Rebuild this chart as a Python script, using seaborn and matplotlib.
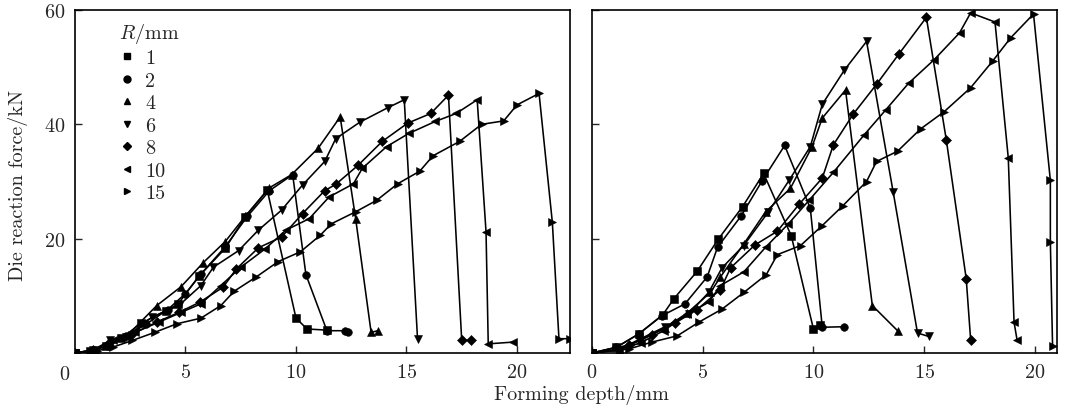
import numpy as np
import pandas as pd
import matplotlib
matplotlib.use("Agg")
import matplotlib.pyplot as plt
from matplotlib.lines import Line2D
import seaborn as sns

# radius levels and their markers
radii = ["1", "2", "4", "6", "8", "10", "15"]
marker_for = {"1": "s", "2": "o", "4": "^", "6": "v", "8": "D", "10": "<", "15": ">"}

# left panel (depth mm, force kN)
l_x_r1 = [0, 0.7, 1.4, 2.1, 3.0, 4.1, 4.65, 5.6, 6.8, 7.7, 8.7, 10.0, 10.5, 11.4]
l_y_r1 = [0, 0.3, 1.2, 2.6, 5.2, 7.4, 8.5, 13.4, 18.3, 23.8, 28.5, 6.1, 4.2, 4.0]
l_x_r2 = [0, 0.8, 1.5, 2.3, 3.2, 4.2, 5.0, 5.7, 6.8, 7.8, 8.8, 9.85, 10.45, 11.4, 12.2, 12.35]
l_y_r2 = [0, 0.4, 1.3, 2.9, 5.0, 7.6, 10.4, 13.8, 18.6, 23.9, 28.4, 31.2, 13.7, 3.9, 3.9, 3.7]
l_x_r4 = [0, 0.9, 1.6, 2.4, 3.7, 4.8, 5.8, 6.8, 7.7, 8.8, 9.8, 11.0, 12.0, 12.7, 13.4, 13.7]
l_y_r4 = [0, 0.6, 1.7, 3.2, 8.3, 11.6, 15.8, 19.5, 23.9, 28.9, 31.2, 35.8, 41.3, 23.5, 3.6, 3.9]
l_x_r6 = [0, 0.8, 1.6, 2.3, 3.5, 4.7, 5.7, 6.26, 7.4, 8.3, 9.35, 10.3, 11.3, 11.8, 12.9, 14.15, 14.9, 15.5]
l_y_r6 = [0, 0.5, 2.2, 2.8, 6.3, 8.3, 11.8, 15.0, 17.9, 21.5, 25.0, 29.4, 33.5, 37.5, 40.4, 42.9, 44.3, 2.5]
l_x_r8 = [0, 0.8, 1.6, 2.6, 3.7, 4.7, 5.65, 6.7, 7.3, 8.3, 9.35, 10.3, 11.3, 11.8, 12.8, 13.9, 15.05, 16.1, 16.9, 17.5, 17.9]
l_y_r8 = [0, 0.5, 1.9, 3.3, 5.4, 7.1, 8.9, 11.5, 14.7, 18.4, 20.3, 24.4, 28.4, 29.5, 32.8, 37.0, 40.2, 41.9, 45.1, 2.2, 2.2]
l_x_r10 = [0, 0.9, 1.7, 2.7, 3.8, 4.8, 5.7, 6.6, 7.5, 8.6, 9.55, 10.6, 11.5, 12.6, 13.0, 14.1, 15.1, 16.3, 17.25, 18.2, 18.6, 18.7, 19.8]
l_y_r10 = [0, 0.4, 2.2, 3.6, 5.4, 7.1, 8.6, 11.8, 15.0, 18.2, 21.5, 23.5, 27.3, 29.6, 32.3, 36.1, 38.4, 40.5, 41.9, 44.3, 21.2, 1.6, 1.9]
l_x_r15 = [0, 1.0, 1.7, 2.6, 3.6, 4.6, 5.7, 6.6, 7.2, 8.2, 9.2, 10.2, 11.1, 11.6, 12.7, 13.65, 14.6, 15.6, 16.2, 17.4, 18.4, 19.4, 20.0, 21.0, 21.6, 21.9, 22.4]
l_y_r15 = [0, 0.4, 1.0, 2.2, 3.6, 5.1, 6.1, 8.3, 10.8, 13.3, 16.0, 17.7, 20.6, 22.6, 24.7, 26.7, 29.6, 31.8, 34.5, 37.0, 40.0, 40.6, 43.4, 45.4, 22.9, 2.5, 2.5]

# right panel
r_x_r1 = [0, 1.1, 2.1, 3.2, 3.7, 4.75, 5.7, 6.8, 7.75, 9.0, 10.0, 10.3]
r_y_r1 = [0, 1.0, 3.3, 6.7, 9.5, 14.3, 19.9, 25.6, 31.4, 20.5, 4.2, 4.9]
r_x_r2 = [0, 1.1, 2.1, 3.15, 4.2, 5.2, 5.67, 6.74, 7.68, 8.7, 9.86, 10.4, 11.4]
r_y_r2 = [0, 1.0, 3.3, 6.5, 8.6, 13.3, 18.5, 24.0, 30.1, 36.3, 25.3, 4.5, 4.6]
r_x_r4 = [0, 1.2, 2.2, 3.3, 4.3, 5.35, 5.8, 6.86, 7.84, 8.96, 9.94, 10.4, 11.45, 12.66, 13.8]
r_y_r4 = [0, 0.6, 2.2, 4.4, 7.0, 10.6, 13.3, 19.1, 24.7, 28.8, 36.1, 41.1, 46.0, 8.3, 3.9]
r_x_r6 = [0, 1.2, 2.1, 3.3, 4.36, 5.27, 5.87, 6.85, 7.97, 8.9, 9.86, 10.4, 11.4, 12.4, 13.6, 14.7, 15.2]
r_y_r6 = [0, 0.6, 2.3, 4.6, 6.8, 10.6, 14.9, 18.8, 24.7, 30.2, 36.1, 43.5, 49.5, 54.5, 28.2, 3.5, 2.9]
r_x_r8 = [0, 1.66, 2.7, 3.74, 4.75, 5.8, 6.26, 7.36, 8.37, 9.35, 10.4, 10.9, 11.8, 12.85, 13.86, 15.1, 16.0, 16.9, 17.1]
r_y_r8 = [0, 1.4, 3.2, 5.2, 7.6, 11.1, 14.9, 18.9, 21.3, 26.0, 30.6, 36.4, 41.8, 47.0, 52.3, 58.7, 37.3, 13.0, 2.3]
r_x_r10 = [0, 1.2, 2.2, 3.24, 4.3, 5.28, 5.8, 6.86, 7.84, 8.87, 9.8, 10.9, 12.3, 13.26, 14.3, 15.45, 16.6, 17.1, 18.2, 18.8, 19.06, 19.2]
r_y_r10 = [0, 0.5, 1.8, 3.9, 6.8, 8.9, 11.8, 14.2, 18.5, 22.6, 26.7, 31.6, 38.2, 42.5, 47.2, 51.3, 56.0, 59.5, 57.9, 34.1, 5.4, 2.2]
r_x_r15 = [0, 1.66, 2.7, 3.85, 4.83, 5.88, 6.86, 7.87, 8.37, 9.42, 10.4, 11.34, 12.4, 12.85, 13.8, 14.84, 15.9, 17.1, 18.1, 18.9, 19.94, 20.7, 20.7, 20.8]
r_y_r15 = [0, 0.7, 1.9, 3.0, 5.4, 7.7, 10.6, 13.7, 17.2, 18.8, 22.3, 25.8, 30.0, 33.5, 35.3, 39.2, 42.2, 46.4, 51.1, 55.1, 59.3, 30.2, 19.4, 1.2]

left_series = [(l_x_r1, l_y_r1), (l_x_r2, l_y_r2), (l_x_r4, l_y_r4), (l_x_r6, l_y_r6),
               (l_x_r8, l_y_r8), (l_x_r10, l_y_r10), (l_x_r15, l_y_r15)]
right_series = [(r_x_r1, r_y_r1), (r_x_r2, r_y_r2), (r_x_r4, r_y_r4), (r_x_r6, r_y_r6),
                (r_x_r8, r_y_r8), (r_x_r10, r_y_r10), (r_x_r15, r_y_r15)]


def to_frame(series):
    parts = []
    for r, (xs, ys) in zip(radii, series):
        parts.append(pd.DataFrame({"depth": xs, "force": ys, "R": r}))
    return pd.concat(parts, ignore_index=True)


df_left = to_frame(left_series)
df_right = to_frame(right_series)

sns.set_style("white")
plt.rcParams["font.family"] = ["cmr10", "DejaVu Serif"]
plt.rcParams["mathtext.fontset"] = "cm"
plt.rcParams["axes.formatter.use_mathtext"] = True
fs = 14.5
plt.rcParams["font.size"] = fs

fig = plt.figure(figsize=(10.66, 4.10), dpi=100)
ax_l = fig.add_axes([75 / 1066, 1 - 354 / 410, 495 / 1066, 343 / 410])
ax_r = fig.add_axes([592 / 1066, 1 - 354 / 410, 465 / 1066, 343 / 410])

for ax, df, xmax in [(ax_l, df_left, 22.4), (ax_r, df_right, 21.0)]:
    sns.lineplot(data=df, x="depth", y="force", style="R", markers=marker_for,
                 dashes=False, color="black", sort=False, estimator=None,
                 legend=False, ax=ax, linewidth=1.15, markersize=5.5,
                 markeredgecolor="black", markeredgewidth=0.4)
    ax.set_xlim(0, xmax)
    ax.set_ylim(0, 60)
    ax.set_xticks([0, 5, 10, 15, 20])
    ax.set_yticks([20, 40, 60])
    ax.tick_params(direction="in", length=5, width=1, pad=7, labelsize=fs,
                   bottom=True, left=True, top=False, right=False)
    for s in ax.spines.values():
        s.set_linewidth(1.2)
        s.set_color("black")
    ax.set_xlabel("")
    ax.set_ylabel("")

ax_r.set_yticklabels([])
# left panel corner "0" sits a bit left of the axis
ax_l.set_xticks([5, 10, 15, 20])
ax_l.text(-0.012, -0.035, "0", transform=ax_l.transAxes, ha="right", va="top", fontsize=fs)

fig.text(18 / 1066, 1 - 185 / 410, "Die reaction force/kN", rotation=90,
         ha="center", va="center", fontsize=fs)
fig.text(581 / 1066, 1 - 395 / 410, "Forming depth/mm", ha="center", va="center", fontsize=fs)

handles = [Line2D([], [], linestyle="none", marker=marker_for[r], color="black",
                  markersize=5 if marker_for[r] != "D" else 4.5) for r in radii]
ax_l.legend(handles, radii, title="$R$/mm", loc="upper left", frameon=False,
            fontsize=fs, title_fontsize=fs, alignment="left", handlelength=0.8,
            handletextpad=0.5, labelspacing=0.22, borderaxespad=0.3,
            bbox_to_anchor=(0.06, 1.01))

fig.savefig("out.png", dpi=100)
